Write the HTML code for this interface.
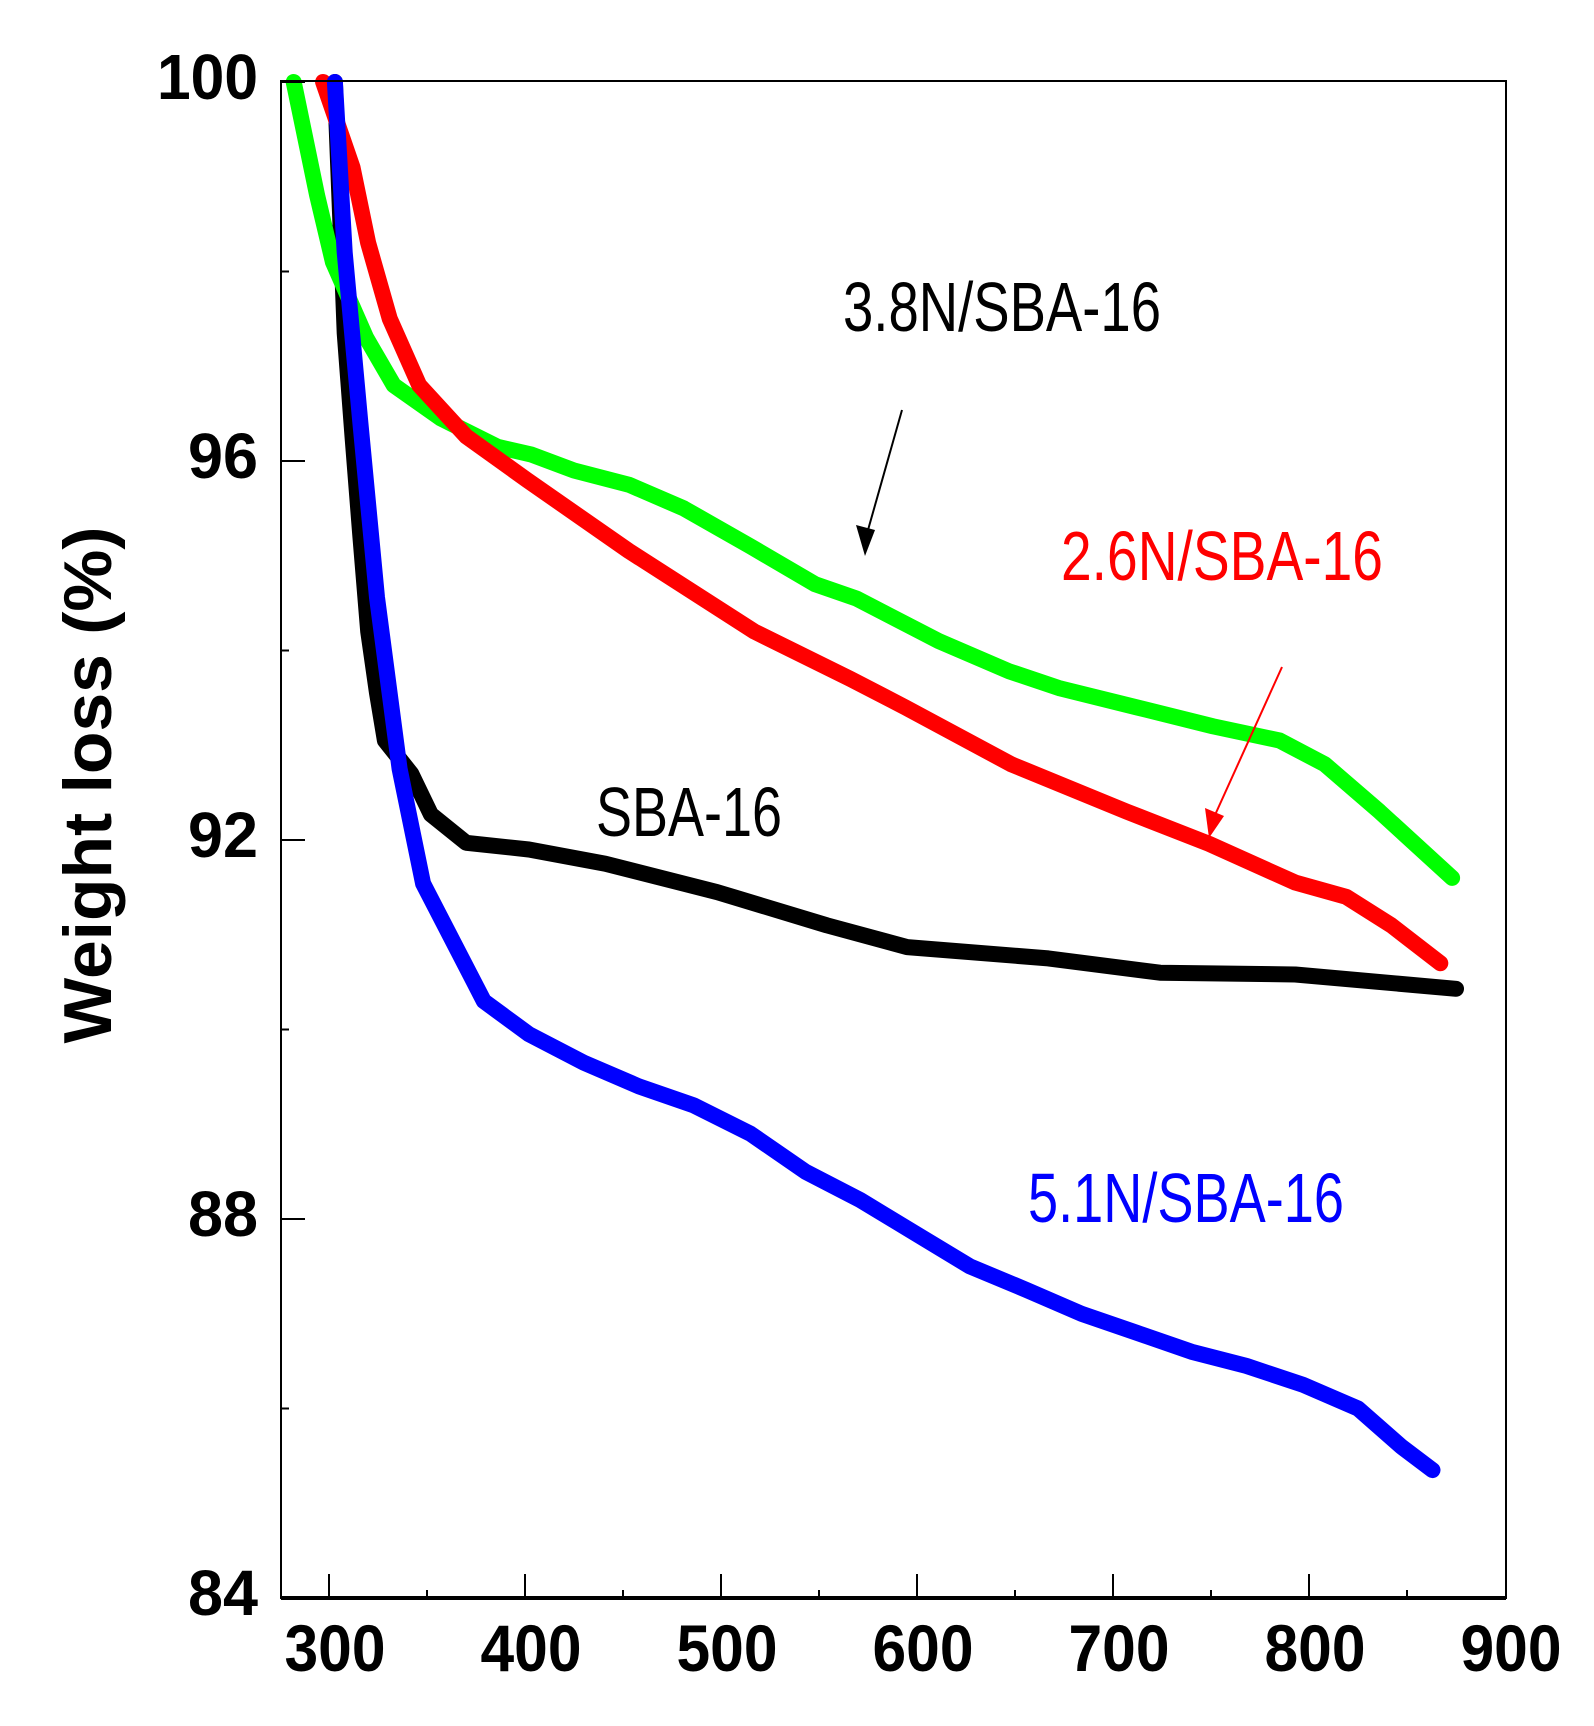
<!DOCTYPE html>
<html><head><meta charset="utf-8"><style>
html,body{margin:0;padding:0;background:#fff;}
svg{display:block;}
text{font-family:"Liberation Sans",sans-serif;}
</style></head><body>
<svg id="chart" width="1594" height="1726" viewBox="0 0 1594 1726" xmlns="http://www.w3.org/2000/svg">
<rect x="0" y="0" width="1594" height="1726" fill="#fff"/>
<g id="series"></g>
<rect x="281" y="81" width="1225" height="1517" fill="none" stroke="#000" stroke-width="2"/>
<line x1="281" y1="1598" x2="1506" y2="1598" stroke="#000" stroke-width="4"/>
<g id="axes"></g>
<text x="88" y="785" transform="rotate(-90 88 785)" text-anchor="middle" dominant-baseline="central" font-size="68" font-weight="bold" textLength="517" lengthAdjust="spacingAndGlyphs">Weight loss (%)</text>
<text x="843" y="331" font-size="70" textLength="318" lengthAdjust="spacingAndGlyphs" fill="#000">3.8N/SBA-16</text>
<text x="1061" y="580" font-size="70" textLength="322" lengthAdjust="spacingAndGlyphs" fill="#f00">2.6N/SBA-16</text>
<text x="596" y="836" font-size="70" textLength="186" lengthAdjust="spacingAndGlyphs" fill="#000">SBA-16</text>
<text x="1028" y="1222" font-size="70" textLength="316" lengthAdjust="spacingAndGlyphs" fill="#00f">5.1N/SBA-16</text>
<line x1="902" y1="410" x2="868" y2="530" stroke="#000" stroke-width="2"/>
<polygon points="865,556 856,525 875,530" fill="#000"/>
<line x1="1282" y1="667" x2="1215" y2="815" stroke="#f00" stroke-width="2"/>
<polygon points="1209,838 1205,808 1224,816" fill="#f00"/>
</svg>
<script>
const greenData = [[282,100],[294,98.8],[302,98.1],[319,97.3],[333,96.8],[357,96.45],[386,96.15],[403,96.07],[425,95.9],[453,95.75],[481,95.5],[515,95.1],[548,94.7],[569,94.55],[611,94.1],[647,93.78],[673,93.6],[712,93.4],[751,93.2],[785,93.05],[808,92.8],[836,92.3],[873,91.6]];
const redData = [[297,100],[312,99.1],[320,98.3],[331,97.5],[346,96.8],[370,96.26],[401,95.8],[453,95.05],[517,94.2],[566,93.7],[594,93.4],[648,92.8],[707,92.3],[749,91.96],[793,91.55],[819,91.4],[842,91.1],[867,90.7]];
const blackData = [[303,100],[308,97.35],[312,96.26],[316,95.2],[320,94.2],[324.5,93.55],[328.5,93.05],[342,92.7],[352,92.27],[370,91.97],[402,91.9],[441,91.75],[498,91.45],[554,91.1],[595,90.87],[667,90.75],[724,90.6],[793,90.58],[875,90.43]];
const blueData = [[303,100],[308,98.2],[316,96.4],[324.5,94.56],[336,92.75],[348,91.54],[372,90.58],[379,90.3],[402,89.95],[430,89.65],[458,89.4],[486,89.2],[515,88.9],[543,88.5],[571,88.2],[599,87.85],[627,87.5],[656,87.25],[684,87.0],[712,86.8],[740,86.6],[768,86.45],[797,86.25],[825,86.0],[847,85.6],[863,85.35]];
const xTickValues = [300,400,500,600,700,800,900];
const xMinorValues = [350,450,550,650,750,850];
const yTickValues = [100,96,92,88,84];
const yMinorValues = [98,94,90,86];

const NS = 'http://www.w3.org/2000/svg';
const X0 = 329, XS = 1.96;
const Y0 = 82, YS = 94.75;
function sx(v){ return X0 + (v - 300) * XS; }
function sy(v){ return Y0 + (100 - v) * YS; }

const seriesG = document.getElementById('series');
const axesG = document.getElementById('axes');

function drawSeries(data, color, name){
  const p = document.createElementNS(NS, 'polyline');
  p.setAttribute('points', data.map(d => sx(d[0]).toFixed(1) + ',' + sy(d[1]).toFixed(1)).join(' '));
  p.setAttribute('fill', 'none');
  p.setAttribute('stroke', color);
  p.setAttribute('stroke-width', '16');
  p.setAttribute('stroke-linejoin', 'round');
  p.setAttribute('stroke-linecap', 'round');
  
  
  seriesG.appendChild(p);
}
drawSeries(blackData, '#000', 'series-sba16');
drawSeries(greenData, '#00ff00', 'series-3.8n-sba16');
drawSeries(redData, '#ff0000', 'series-2.6n-sba16');
drawSeries(blueData, '#0000ff', 'series-5.1n-sba16');

function mkLine(x1,y1,x2,y2,w){
  const l = document.createElementNS(NS, 'line');
  l.setAttribute('x1', x1); l.setAttribute('y1', y1);
  l.setAttribute('x2', x2); l.setAttribute('y2', y2);
  l.setAttribute('stroke', '#000'); l.setAttribute('stroke-width', w);
  axesG.appendChild(l);
  return l;
}
function mkText(x,y,str,anchor,size,len){
  const t = document.createElementNS(NS, 'text');
  t.setAttribute('x', x); t.setAttribute('y', y);
  t.setAttribute('text-anchor', anchor);
  t.setAttribute('font-size', size);
  t.setAttribute('font-weight', 'bold');
  t.setAttribute('textLength', len);
  t.setAttribute('lengthAdjust', 'spacingAndGlyphs');
  t.textContent = str;
  axesG.appendChild(t);
  return t;
}
xTickValues.forEach(v => {
  if (v < 900) {
    const l = mkLine(sx(v), 1598, sx(v), 1574, 2);
    
    
  }
  const t = mkText(sx(v) + 6, 1671, String(v), 'middle', 66, 101);
  
  
});
xMinorValues.forEach(v => {
  const l = mkLine(sx(v), 1598, sx(v), 1590, 2);
  
  
});
yTickValues.forEach(v => {
  const l = mkLine(281, sy(v), 305, sy(v), 2);
  
  
  const s = String(v);
  const t = mkText(258, sy(v) + 17, s, 'end', 64, s.length === 3 ? 101 : 70);
  
  
});
yMinorValues.forEach(v => {
  const l = mkLine(281, sy(v), 289, sy(v), 2);
  
  
});
</script>
</body></html>
